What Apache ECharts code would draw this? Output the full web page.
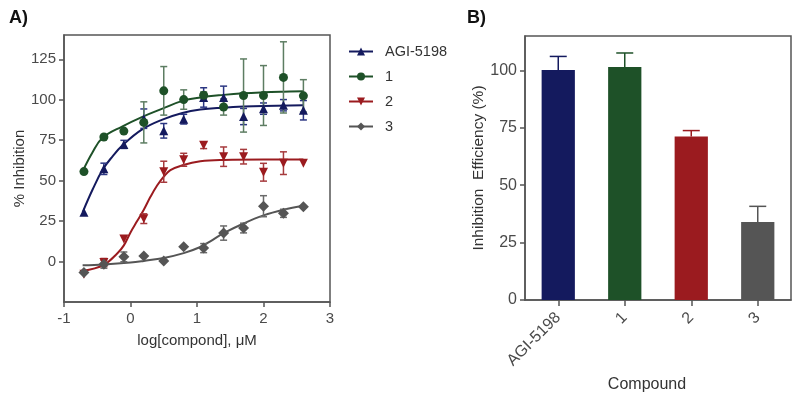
<!DOCTYPE html>
<html><head><meta charset="utf-8">
<script src="https://cdn.jsdelivr.net/npm/echarts@6/dist/echarts.min.js"></script>
<style>html,body{margin:0;padding:0;background:#fff}#c{width:800px;height:401px}</style>
</head><body><div id="c"></div>
<script>
// ---- Panel A data ----
const doseLog = [-0.7,-0.4,-0.1,0.2,0.5,0.8,1.1,1.4,1.7,2.0,2.3,2.6];
const agiMean = [30.4,57.3,72.4,88.3,80.8,88.0,101.4,101.4,89.6,94.5,96.6,93.5];
const agiErr  = [0,3.5,2.5,6,4.5,3,6,7,5,3.5,3.5,6];
const c1Mean  = [55.6,77,80.6,86,105.5,100.1,102.8,95.5,102.6,102.6,113.8,102.4];
const c1Err   = [0,0,0,12.7,15,6,2,5,22.6,18.5,22,10];
const c2Mean  = [-7.8,-0.6,13.9,26.5,55.5,62.9,71.8,64.8,64.8,55.2,60.8,60.8];
const c2Err   = [0,2.5,0,3,6.5,4,2,6,4.5,5.5,7,0];
const c3Mean  = [-6.8,-1.6,2.9,3.5,0.4,9.1,8.3,17.6,20.7,34.2,29.8,33.9];
const c3Err   = [0,2.5,3,0,0,0,2.8,4.4,3,6.5,2.5,0];
// fitted curves
const agiFitX = [-0.72,-0.57,-0.42,-0.27,-0.12,0.17,0.48,0.78,1.05,1.4,1.7,2.0,2.6];
const agiFitY = [30.4,44.5,56.7,65,71.8,81.5,87.7,91.8,93.9,95.1,95.8,96.2,96.6];
const c1FitX  = [-0.72,-0.57,-0.42,-0.12,0.17,0.48,0.78,1.05,1.4,1.7,2.0,2.3,2.6];
const c1FitY  = [55.8,67.6,76.5,83.6,89.3,94.5,99.3,101.4,103,104,104.6,105,105.3];
const c2FitX  = [-0.72,-0.4,-0.2,-0.1,0.0,0.1,0.2,0.3,0.4,0.5,0.6,0.78,1.05,1.4,2.0,2.6];
const c2FitY  = [-5.8,-2,5,10,18,25,32,40,47,52.5,56.5,59.5,62,62.8,63,63];
const c3FitX  = [-0.72,-0.4,0.0,0.2,0.5,0.8,1.05,1.2,1.4,1.7,2.0,2.3,2.6];
const c3FitY  = [-2.3,-1.8,-0.6,0.4,2.2,5.2,9,12.5,17.5,23.5,28.5,32,34.5];
const seriesNames = ['AGI-5198','1','2','3'];
const yTicksA = [0,25,50,75,100,125];
// ---- Panel B data ----
const compounds = ['AGI-5198','1','2','3'];
const effMean = [100.2,101.5,71.2,34];
const effErr  = [5.9,6.1,2.6,6.8];
const yTicksB = [0,25,50,75,100];

const colors = ['#141a5e','#1e5128','#9b1b1f','#555555'];
const errColors = ['#2b3682','#5d7d62','#a63a3d','#6a6a6a'];
const symbols = ['triangle','circle','triangle','diamond'];
const rotates = [0,0,180,0];
const sizes = [9,9,9,11];

const pairs = (xs, ys) => xs.map((x,i)=>[x, ys[i]]);
const triples = (xs, ys, es) => xs.map((x,i)=>[x, ys[i], es[i]]);

function errRender(color, half){
  return function(params, api){
    const x = api.value(0), m = api.value(1), e = api.value(2);
    if (!e) return null;
    const t = api.coord([x, m+e]), b = api.coord([x, m-e]);
    const st = {stroke: color, lineWidth: 1.5};
    return {type:'group', children:[
      {type:'line', shape:{x1:t[0],y1:t[1],x2:b[0],y2:b[1]}, style:st},
      {type:'line', shape:{x1:t[0]-half,y1:t[1],x2:t[0]+half,y2:t[1]}, style:st},
      {type:'line', shape:{x1:b[0]-half,y1:b[1],x2:b[0]+half,y2:b[1]}, style:st}
    ]};
  };
}
function barErrRender(params, api){
  const x = api.value(0), m = api.value(1), e = api.value(2);
  const base = api.coord([x, m]), t = api.coord([x, m+e]);
  const st = {stroke: colors[params.dataIndex], lineWidth: 1.5};
  return {type:'group', children:[
    {type:'line', shape:{x1:base[0],y1:base[1],x2:t[0],y2:t[1]}, style:st},
    {type:'line', shape:{x1:t[0]-8.5,y1:t[1],x2:t[0]+8.5,y2:t[1]}, style:st}
  ]};
}

const means = [agiMean,c1Mean,c2Mean,c3Mean];
const errs = [agiErr,c1Err,c2Err,c3Err];
const fits = [[agiFitX,agiFitY],[c1FitX,c1FitY],[c2FitX,c2FitY],[c3FitX,c3FitY]];

const series = [];
for (let k=0;k<4;k++){
  series.push({type:'line', name:seriesNames[k], xAxisIndex:0, yAxisIndex:0,
    data: pairs(fits[k][0], fits[k][1]), smooth:0.4, showSymbol:false,
    symbol:symbols[k], symbolRotate:rotates[k], symbolSize:sizes[k],
    lineStyle:{color:colors[k], width:2}, itemStyle:{color:colors[k]}, z:2, silent:true});
}
for (let k=0;k<4;k++){
  series.push({type:'custom', name:seriesNames[k], xAxisIndex:0, yAxisIndex:0,
    data: triples(doseLog, means[k], errs[k]), encode:{x:0,y:1},
    renderItem: errRender(errColors[k], 3.5), z:3, silent:true});
}
for (let k=0;k<4;k++){
  series.push({type:'scatter', name:seriesNames[k], xAxisIndex:0, yAxisIndex:0,
    data: pairs(doseLog, means[k]), symbol:symbols[k], symbolRotate:rotates[k],
    symbolSize:sizes[k], itemStyle:{color:colors[k], opacity:1}, z:4, silent:true});
}
series.push({type:'bar', name:'eff', xAxisIndex:1, yAxisIndex:1, barWidth:'50%',
  data: effMean.map((v,i)=>({value:v, itemStyle:{color:colors[i]}})), silent:true});
series.push({type:'custom', name:'effErr', xAxisIndex:1, yAxisIndex:1,
  data: effMean.map((v,i)=>[i, v, effErr[i]]), encode:{x:0,y:1},
  renderItem: barErrRender, z:5, silent:true});

const axisCol = '#555';
const labCol = '#4a4a4a';
const font = 'Liberation Sans, Arial, sans-serif';

const chart = echarts.init(document.getElementById('c'), null, {renderer:'canvas'});
chart.setOption({
  animation:false,
  backgroundColor:'#fff',
  textStyle:{fontFamily:font},
  graphic:[
    {type:'text', left:9, top:9, style:{text:'A)', font:'bold 18px '+font, fill:'#111'}},
    {type:'text', left:467, top:9, style:{text:'B)', font:'bold 18px '+font, fill:'#111'}}
  ],
  legend:{data:seriesNames, orient:'vertical', left:348, top:44, padding:0, itemWidth:24, itemHeight:10,
    itemGap:10, textStyle:{fontSize:14.5, color:'#333', fontFamily:font, padding:[0,0,0,7]},
    selectedMode:false},
  grid:[
    {left:64, top:35, width:266, height:267, show:true, borderColor:axisCol, borderWidth:1.5, containLabel:false},
    {left:525, top:36, width:266, height:264, show:true, borderColor:axisCol, borderWidth:1.5, containLabel:false}
  ],
  xAxis:[
    {type:'value', gridIndex:0, min:-1, max:3, interval:1,
      name:'log[compond], \u03bcM', nameLocation:'middle', nameGap:31,
      nameTextStyle:{fontSize:15, color:'#333', fontFamily:font},
      axisLine:{show:true, onZero:false, lineStyle:{color:axisCol, width:1.5}},
      axisTick:{show:true, length:5, lineStyle:{color:axisCol, width:1.5}},
      axisLabel:{fontSize:15, color:labCol, margin:9, fontFamily:font},
      splitLine:{show:false}},
    {type:'category', gridIndex:1, data:compounds, boundaryGap:true,
      name:'Compound', nameLocation:'middle', nameGap:76,
      nameTextStyle:{fontSize:16, color:'#333', fontFamily:font, padding:[0,22,0,0]},
      axisLine:{show:true, onZero:false, lineStyle:{color:axisCol, width:1.5}},
      axisTick:{show:true, alignWithLabel:true, length:6, lineStyle:{color:axisCol, width:1.5}},
      axisLabel:{fontSize:16, color:labCol, rotate:45, margin:15, fontFamily:font, interval:0},
      splitLine:{show:false}}
  ],
  yAxis:[
    {type:'value', gridIndex:0, min:-25, max:140,
      name:'% Inhibition', nameLocation:'middle', nameGap:37,
      nameTextStyle:{fontSize:15, color:'#333', fontFamily:font},
      axisLine:{show:true, onZero:false, lineStyle:{color:axisCol, width:1.5}},
      axisTick:{show:true, length:5, customValues:yTicksA, lineStyle:{color:axisCol, width:1.5}},
      axisLabel:{fontSize:15, color:labCol, customValues:yTicksA, fontFamily:font},
      splitLine:{show:false}},
    {type:'value', gridIndex:1, min:0, max:115,
      name:'Inhibition  Efficiency (%)', nameLocation:'middle', nameGap:38,
      nameTextStyle:{fontSize:15.5, color:'#333', fontFamily:font},
      axisLine:{show:true, onZero:false, lineStyle:{color:axisCol, width:1.5}},
      axisTick:{show:true, length:5, customValues:yTicksB, lineStyle:{color:axisCol, width:1.5}},
      axisLabel:{fontSize:16, color:labCol, customValues:yTicksB, fontFamily:font},
      splitLine:{show:false}}
  ],
  series: series
});
</script></body></html>
